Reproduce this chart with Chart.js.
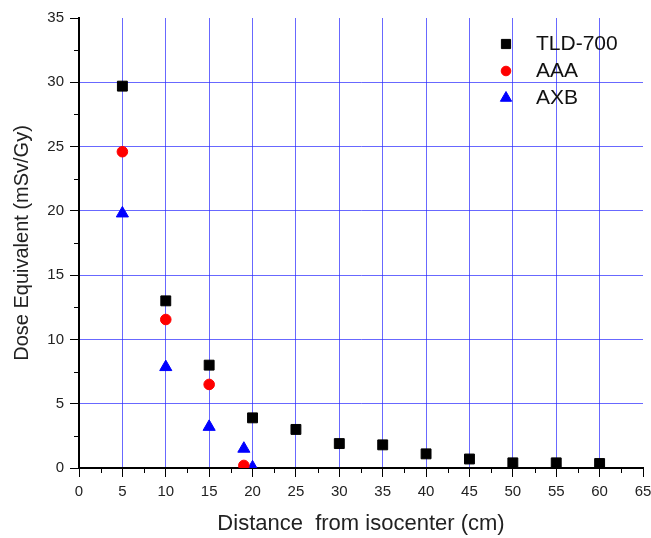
<!DOCTYPE html>
<html>
<head>
<meta charset="utf-8">
<script src="https://cdn.jsdelivr.net/npm/chart.js@4/dist/chart.umd.min.js"></script>
<style>
html,body{margin:0;padding:0;background:#fff;}
#wrap{width:651px;height:538px;}
</style>
</head>
<body>
<div id="wrap"><canvas id="c" width="651" height="538"></canvas></div>
<script>
const seriesNames = ['TLD-700', 'AAA', 'AXB'];
const tldX = [5, 10, 15, 20, 25, 30, 35, 40, 45, 50, 55, 60];
const tldY = [29.7, 13.0, 8.0, 3.9, 3.0, 1.9, 1.8, 1.1, 0.7, 0.4, 0.4, 0.35];
const aaaX = [5, 10, 15, 19];
const aaaY = [24.6, 11.55, 6.5, 0.2];
const axbX = [5, 10, 15, 19, 20];
const axbY = [19.8, 7.85, 3.2, 1.5, 0.05];
const xTitle = 'Distance  from isocenter (cm)';
const yTitle = 'Dose Equivalent (mSv/Gy)';
const xMin = 0, xMax = 65, xStep = 5;
const yMin = 0, yMax = 35, yStep = 5;

const FONT = "'Liberation Sans', Arial, sans-serif";
const GRID = 'rgba(40,40,255,0.7)';

function pts(xs, ys) { return xs.map((x, i) => ({x: x, y: ys[i]})); }

const styles = [
  {pointStyle: 'rect', radius: 7, color: '#000000'},
  {pointStyle: 'circle', radius: 5.3, color: '#ff0000'},
  {pointStyle: 'triangle', radius: 7, color: '#0000ff'}
];
const dataSets = [pts(tldX, tldY), pts(aaaX, aaaY), pts(axbX, axbY)];

const minorTicks = {
  id: 'minorTicks',
  afterDraw(chart) {
    const ctx = chart.ctx;
    ctx.save();
    ctx.strokeStyle = '#000';
    ctx.lineWidth = 1;
    const xs = chart.scales.x, ys = chart.scales.y;
    for (let v = xMin + xStep / 2; v < xMax; v += xStep) {
      const px = Math.round(xs.getPixelForValue(v)) + 0.5;
      ctx.beginPath();
      ctx.moveTo(px, chart.chartArea.bottom);
      ctx.lineTo(px, chart.chartArea.bottom + 5);
      ctx.stroke();
    }
    for (let v = yMin + yStep / 2; v < yMax; v += yStep) {
      const py = Math.round(ys.getPixelForValue(v)) + 0.5;
      ctx.beginPath();
      ctx.moveTo(chart.chartArea.left, py);
      ctx.lineTo(chart.chartArea.left - 5, py);
      ctx.stroke();
    }
    ctx.restore();
  }
};

const innerLegend = {
  id: 'innerLegend',
  afterDraw(chart) {
    const ctx = chart.ctx;
    ctx.save();
    const rows = [44, 71, 98];
    ctx.font = '21px ' + FONT;
    ctx.textBaseline = 'middle';
    chart.data.datasets.forEach((ds, i) => {
      const st = styles[i];
      ctx.fillStyle = st.color;
      ctx.strokeStyle = st.color;
      Chart.helpers.drawPoint(ctx, {pointStyle: st.pointStyle, radius: st.radius - 0.5, rotation: 0, borderWidth: 1}, 506, rows[i]);
      ctx.fillStyle = '#111';
      ctx.fillText(ds.label, 536, rows[i]);
    });
    ctx.restore();
  }
};

new Chart(document.getElementById('c'), {
  type: 'scatter',
  data: {
    datasets: dataSets.map((d, i) => ({
      label: seriesNames[i],
      data: d,
      pointStyle: styles[i].pointStyle,
      pointRadius: styles[i].radius,
      pointHoverRadius: styles[i].radius,
      backgroundColor: styles[i].color,
      borderColor: styles[i].color,
      borderWidth: 1,
      clip: 0
    }))
  },
  options: {
    responsive: false,
    animation: false,
    events: [],
    layout: {padding: {top: 18, right: 8, left: 0, bottom: 0}},
    plugins: {legend: {display: false}, tooltip: {enabled: false}},
    scales: {
      x: {
        type: 'linear', min: xMin, max: xMax,
        afterFit(s) { s.height = 70; s.paddingLeft = 0; s.paddingRight = 0; },
        ticks: {stepSize: xStep, color: '#222', font: {family: FONT, size: 15}, padding: 6},
        grid: {
          color: c => (c.tick && (c.tick.value === xMin || c.tick.value === xMax)) ? 'rgba(0,0,0,0)' : GRID,
          lineWidth: 1, tickColor: '#000', tickLength: 9, tickWidth: 1
        },
        border: {color: '#000', width: 2},
        title: {display: true, text: xTitle, color: '#222', font: {family: FONT, size: 22}, padding: {top: 0, bottom: 1}}
      },
      y: {
        type: 'linear', min: yMin, max: yMax,
        afterFit(s) { s.width = 79; s.paddingTop = 0; s.paddingBottom = 0; },
        ticks: {stepSize: yStep, color: '#222', font: {family: FONT, size: 15}, padding: 6},
        grid: {
          color: c => (c.tick && (c.tick.value === yMin || c.tick.value === yMax)) ? 'rgba(0,0,0,0)' : GRID,
          lineWidth: 1, tickColor: '#000', tickLength: 9, tickWidth: 1
        },
        border: {color: '#000', width: 2},
        title: {display: true, text: yTitle, color: '#222', font: {family: FONT, size: 20}, padding: {top: 10, bottom: 0}}
      }
    }
  },
  plugins: [minorTicks, innerLegend]
});
</script>
</body>
</html>
